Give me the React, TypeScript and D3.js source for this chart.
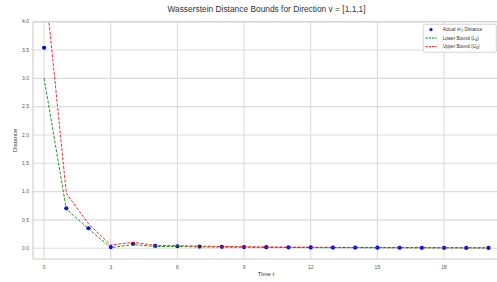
import React from "react";
import * as d3 from "d3";

const times = d3.range(0, 21);
const actualW2 = [3.54, 0.705, 0.353, 0.02, 0.078, 0.04, 0.035, 0.03, 0.025, 0.02, 0.018, 0.016, 0.014, 0.012, 0.011, 0.01, 0.009, 0.008, 0.007, 0.006, 0.005];
const lowerBound = [3.0, 0.69, 0.345, 0.01, 0.065, 0.03, 0.03, 0.024, 0.02, 0.017, 0.015, 0.013, 0.012, 0.01, 0.009, 0.008, 0.007, 0.006, 0.005, 0.005, 0.004];
const upperBound = [4.85, 0.97, 0.43, 0.055, 0.105, 0.05, 0.045, 0.038, 0.032, 0.027, 0.023, 0.02, 0.018, 0.016, 0.014, 0.013, 0.012, 0.011, 0.01, 0.009, 0.008];
const xTicks = [0, 3, 6, 9, 12, 15, 18];
const yTicks = [0, 0.5, 1.0, 1.5, 2.0, 2.5, 3.0, 3.5, 4.0];

const W = 497;
const H = 282;
const FONT = "'Liberation Sans', Arial, sans-serif";

export default function App() {
  const left = 33, right = 499.6, top = 21.7, bottom = 259;
  const x = d3.scaleLinear().domain([-0.5, 20.5]).range([left, right]);
  const y = d3.scaleLinear().domain([-0.19, 4.0]).range([bottom, top]);
  const line = (vals: number[]) =>
    d3.line<number>().x((_, i) => x(times[i])).y((d) => y(d))(vals) || "";

  return (
    <svg width={W} height={H} style={{ position: "absolute", left: 0, top: 0, background: "#fff" }} fontFamily={FONT}>
      <defs>
        <clipPath id="plotClip">
          <rect x={left} y={top} width={right - left} height={bottom - top} />
        </clipPath>
      </defs>
      {/* grid */}
      {yTicks.map((t) => (
        <line key={"gy" + t} x1={left} x2={right} y1={y(t)} y2={y(t)} stroke="#dcdcdc" strokeWidth={1.1} />
      ))}
      {xTicks.map((t) => (
        <line key={"gx" + t} x1={x(t)} x2={x(t)} y1={top} y2={bottom} stroke="#dcdcdc" strokeWidth={1.1} />
      ))}
      {/* spines */}
      <line x1={left} x2={left} y1={top} y2={bottom} stroke="#cccccc" strokeWidth={1.1} />
      <line x1={left} x2={right} y1={bottom} y2={bottom} stroke="#cccccc" strokeWidth={1.1} />
      <line x1={left} x2={right} y1={top} y2={top} stroke="#cccccc" strokeWidth={1.1} />
      {/* tick labels */}
      {yTicks.map((t) => (
        <text key={"ly" + t} x={29} y={y(t)} dy="0.35em" textAnchor="end" fontSize={5} fill="#555">
          {t.toFixed(1)}
        </text>
      ))}
      {xTicks.map((t) => (
        <text key={"lx" + t} x={x(t)} y={268.5} textAnchor="middle" fontSize={5} fill="#555">
          {t}
        </text>
      ))}
      {/* axis labels */}
      <text x={266} y={276} textAnchor="middle" fontSize={6} fill="#333">Time t</text>
      <text transform={`translate(15,${(top + bottom) / 2}) rotate(-90)`} textAnchor="middle" dy="0.35em" fontSize={6} fill="#333">
        Distance
      </text>
      {/* title */}
      <text x={266.5} y={11.5} textAnchor="middle" fontSize={8.4} fill="#333">
        Wasserstein Distance Bounds for Direction v = [1,1,1]
      </text>
      {/* data */}
      <g clipPath="url(#plotClip)">
        {actualW2.map((v, i) => (
          <circle key={"p" + i} cx={x(times[i])} cy={y(v)} r={2.1} fill="#0000ff" />
        ))}
        <path d={line(lowerBound)} fill="none" stroke="#008000" strokeWidth={1} strokeDasharray="3,1.5" opacity={0.85} />
        <path d={line(upperBound)} fill="none" stroke="#ff0000" strokeWidth={1} strokeDasharray="3,1.5" opacity={0.85} />
      </g>
      {/* legend */}
      <g>
        <rect x={423.3} y={24.3} width={73} height={28} fill="#fff" fillOpacity={0.85} stroke="#cccccc" strokeWidth={0.8} rx={1.5} />
        <circle cx={431} cy={29.5} r={1.6} fill="#0000ff" />
        <line x1={425.5} x2={436.7} y1={38} y2={38} stroke="#008000" strokeWidth={1} strokeDasharray="2.2,1.1" />
        <line x1={425.5} x2={436.7} y1={46.7} y2={46.7} stroke="#ff0000" strokeWidth={1} strokeDasharray="2.2,1.1" />
        <text x={442.7} y={29.5} dy="0.35em" fontSize={4.6} fill="#333">
          Actual <tspan fontStyle="italic" fontFamily="'DejaVu Serif', serif">W</tspan><tspan fontSize={3.2} dy="1">2</tspan><tspan dy="-1"> Distance</tspan>
        </text>
        <text x={442.7} y={38} dy="0.35em" fontSize={4.6} fill="#333">
          Lower Bound (<tspan fontStyle="italic">L</tspan><tspan fontSize={3.2} dy="1" fontStyle="italic">B</tspan><tspan dy="-1">)</tspan>
        </text>
        <text x={442.7} y={46.7} dy="0.35em" fontSize={4.6} fill="#333">
          Upper Bound (<tspan fontStyle="italic">U</tspan><tspan fontSize={3.2} dy="1" fontStyle="italic">B</tspan><tspan dy="-1">)</tspan>
        </text>
      </g>
    </svg>
  );
}
